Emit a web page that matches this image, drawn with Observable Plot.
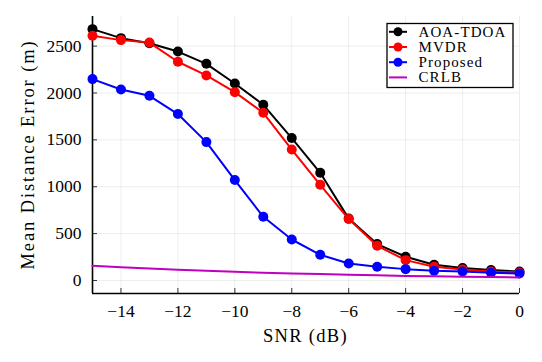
<!DOCTYPE html>
<html>
<head>
<meta charset="utf-8">
<script src="https://cdn.jsdelivr.net/npm/d3@7"></script>
<script src="https://cdn.jsdelivr.net/npm/@observablehq/plot@0.6"></script>
<style>
  html, body { margin: 0; padding: 0; background: white; }
  #chart svg { display: block; }
  #chart svg, #chart svg text { font-family: "Liberation Serif", "DejaVu Serif", serif; }
</style>
</head>
<body>
<div id="chart"></div>
<script>
// ---- data ----
const snr = [-15, -14, -13, -12, -11, -10, -9, -8, -7, -6, -5, -4, -3, -2, -1, 0];
const aoaTdoa = [2681, 2585, 2530, 2442, 2311, 2101, 1874, 1519, 1149, 660, 388, 253, 167, 132, 111, 96];
const mvdr = [2610, 2564, 2538, 2333, 2187, 2009, 1789, 1397, 1021, 655, 370, 217, 146, 117, 96, 85];
const proposed = [2148, 2037, 1970, 1775, 1476, 1071, 679, 437, 274, 181, 146, 121, 103, 96, 82, 75];
const crlb = [157, 141, 127, 114, 103, 93, 83, 75, 68, 61, 55, 49, 44, 40, 36, 32];

const seriesNames = ["AOA-TDOA", "MVDR", "Proposed", "CRLB"];
const seriesValues = [aoaTdoa, mvdr, proposed, crlb];
const seriesColors = ["#000000", "#ff0000", "#0000ff", "#c000c0"];
const seriesMarkers = [true, true, true, false];

const xTicks = [-14, -12, -10, -8, -6, -4, -2, 0];
const yTicks = [0, 500, 1000, 1500, 2000, 2500];
const xDomain = [-15, 0];
const yDomain = [-139, 2816];

const xLabel = "SNR (dB)";
const yLabel = "Mean Distance Error (m)";

// ---- build ----
const series = seriesNames.map((name, i) => ({
  name,
  color: seriesColors[i],
  marker: seriesMarkers[i],
  rows: snr.map((s, j) => ({snr: s, value: seriesValues[i][j]}))
}));

const seriesMarks = series.flatMap(s => {
  const m = [Plot.line(s.rows, {x: "snr", y: "value", stroke: s.color, strokeWidth: 2})];
  if (s.marker) m.push(Plot.dot(s.rows, {x: "snr", y: "value", r: 5, fill: s.color, stroke: "none"}));
  return m;
});

const W = 542, H = 362;
const mL = 92, mR = 23, mT = 16, mB = 69;

const chart = Plot.plot({
  width: W,
  height: H,
  marginLeft: mL,
  marginRight: mR,
  marginTop: mT,
  marginBottom: mB,
  style: {fontSize: "17.5px", background: "white", color: "black", overflow: "visible"},
  x: {domain: xDomain, ticks: xTicks},
  y: {domain: yDomain, ticks: yTicks},
  marks: [
    Plot.gridX(xTicks, {stroke: "#000", strokeOpacity: 0.07, strokeWidth: 1}),
    Plot.gridY(yTicks, {stroke: "#000", strokeOpacity: 0.07, strokeWidth: 1}),
    Plot.axisX(xTicks, {tickSize: -5, tickPadding: 16, stroke: "#333", tickFormat: d => d3.format("")(d).replace("-", "\u2212"), label: null}),
    Plot.axisY(yTicks, {tickSize: -5, tickPadding: 16, stroke: "#333", tickFormat: d => String(d), label: null}),
    Plot.ruleX([xDomain[0]], {stroke: "black", strokeWidth: 1.6}),
    Plot.ruleY([yDomain[0]], {stroke: "black", strokeWidth: 1.6}),
    ...seriesMarks
  ]
});

document.getElementById("chart").appendChild(chart);

// ---- axis titles and legend (SVG text) ----
const svg = d3.select(chart);
const frameCx = mL + (W - mL - mR) / 2;
const frameCy = mT + (H - mT - mB) / 2;

svg.append("text")
  .attr("x", frameCx).attr("y", 342)
  .attr("text-anchor", "middle")
  .attr("font-size", 18.5)
  .attr("letter-spacing", "1.3px")
  .attr("fill", "black")
  .text(xLabel);

svg.append("text")
  .attr("transform", `translate(34,${frameCy}) rotate(-90)`)
  .attr("text-anchor", "middle")
  .attr("font-size", 18.5)
  .attr("letter-spacing", "1.9px")
  .attr("fill", "black")
  .text(yLabel);

const lg = svg.append("g").attr("transform", "translate(387,23.5)");
lg.append("rect").attr("width", 126).attr("height", 64)
  .attr("fill", "white").attr("stroke", "black").attr("stroke-width", 1.3);
series.forEach((s, i) => {
  const cy = 8.3 + i * 15.2;
  lg.append("line").attr("x1", 2).attr("x2", 20).attr("y1", cy).attr("y2", cy)
    .attr("stroke", s.color).attr("stroke-width", 2);
  if (s.marker) lg.append("circle").attr("cx", 11).attr("cy", cy).attr("r", 4.5).attr("fill", s.color);
  lg.append("text").attr("x", 31.5).attr("y", cy + 5)
    .attr("text-anchor", "start")
    .attr("font-size", 15).attr("letter-spacing", "1.1px").attr("fill", "black")
    .text(s.name);
});
</script>
</body>
</html>
